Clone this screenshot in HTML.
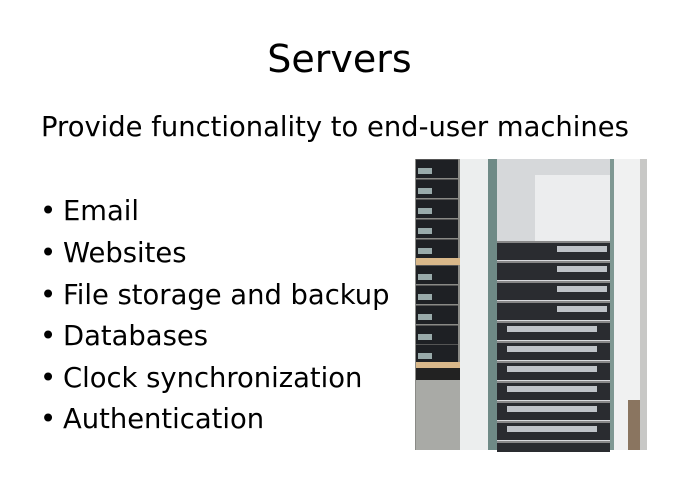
<!DOCTYPE html>
<html><head><style>
body{margin:0;width:679px;height:480px;background:#fff;position:relative;overflow:hidden;font-family:"DejaVu Sans","Liberation Sans",sans-serif;color:#000}
.t{position:absolute;white-space:nowrap;line-height:1}
.b{position:absolute;left:40px;font-size:27.4px;white-space:nowrap;line-height:1}
.b span{position:absolute;left:23px}
.p{position:absolute}
.srv{position:absolute;left:497px;width:113px;height:17px;background:#2a2c30;border-top:2px solid #888}
.srv i{position:absolute;top:3px;height:6px;background:#bfc3c8}
.ls{position:absolute;left:416px;width:42px;height:18px;background:#1e2024;border-top:1px solid #555}
.ls i{position:absolute;left:2px;top:8px;width:14px;height:6px;background:#9aa}
</style></head><body>
<div class="t" style="left:0;width:679px;text-align:center;top:40px;font-size:38px">Servers</div>
<div class="t" style="left:41px;top:114px;font-size:27.4px">Provide functionality to end-user machines</div>
<div class="b" style="top:198px">•<span>Email</span></div>
<div class="b" style="top:240px">•<span>Websites</span></div>
<div class="b" style="top:282px">•<span>File storage and backup</span></div>
<div class="b" style="top:323px">•<span>Databases</span></div>
<div class="b" style="top:365px">•<span>Clock synchronization</span></div>
<div class="b" style="top:406px">•<span>Authentication</span></div>

<div class="p" style="left:415px;top:159px;width:232px;height:291px;background:#d8dadc;overflow:hidden">
</div>
<div class="p" style="left:415px;top:159px;width:45px;height:291px;background:#8a8a86"></div>
<div class="ls" style="top:159px"><i></i></div>
<div class="ls" style="top:179px"><i></i></div>
<div class="ls" style="top:199px"><i></i></div>
<div class="ls" style="top:219px"><i></i></div>
<div class="ls" style="top:239px"><i></i></div>
<div class="p" style="left:416px;top:258px;width:44px;height:7px;background:#d9b88a"></div>
<div class="ls" style="top:265px"><i></i></div>
<div class="ls" style="top:285px"><i></i></div>
<div class="ls" style="top:305px"><i></i></div>
<div class="ls" style="top:325px"><i></i></div>
<div class="ls" style="top:344px"><i></i></div>
<div class="p" style="left:416px;top:362px;width:44px;height:6px;background:#d9b88a"></div>
<div class="p" style="left:416px;top:368px;width:44px;height:12px;background:#222"></div>
<div class="p" style="left:416px;top:380px;width:44px;height:70px;background:#a9aaa6"></div>
<div class="p" style="left:460px;top:159px;width:28px;height:291px;background:#eceeee"></div>
<div class="p" style="left:488px;top:159px;width:9px;height:291px;background:#6f8a86"></div>
<div class="p" style="left:497px;top:159px;width:116px;height:84px;background:#d6d8da"></div>
<div class="p" style="left:535px;top:175px;width:78px;height:68px;background:#ecedee"></div>
<div class="srv" style="top:241px"><i style="left:60px;width:50px"></i></div>
<div class="srv" style="top:261px"><i style="left:60px;width:50px"></i></div>
<div class="srv" style="top:281px"><i style="left:60px;width:50px"></i></div>
<div class="srv" style="top:301px"><i style="left:60px;width:50px"></i></div>
<div class="srv" style="top:321px"><i style="left:10px;width:90px"></i></div>
<div class="srv" style="top:341px"><i style="left:10px;width:90px"></i></div>
<div class="srv" style="top:361px"><i style="left:10px;width:90px"></i></div>
<div class="srv" style="top:381px"><i style="left:10px;width:90px"></i></div>
<div class="srv" style="top:401px"><i style="left:10px;width:90px"></i></div>
<div class="srv" style="top:421px"><i style="left:10px;width:90px"></i></div>
<div class="srv" style="top:441px;height:9px"></div>
<div class="p" style="left:610px;top:159px;width:4px;height:291px;background:#7f9893"></div>
<div class="p" style="left:614px;top:159px;width:26px;height:291px;background:#f0f1f1"></div>
<div class="p" style="left:640px;top:159px;width:7px;height:291px;background:#c8c8c6"></div>
<div class="p" style="left:628px;top:400px;width:12px;height:50px;background:#8a7560"></div>
</body></html>
